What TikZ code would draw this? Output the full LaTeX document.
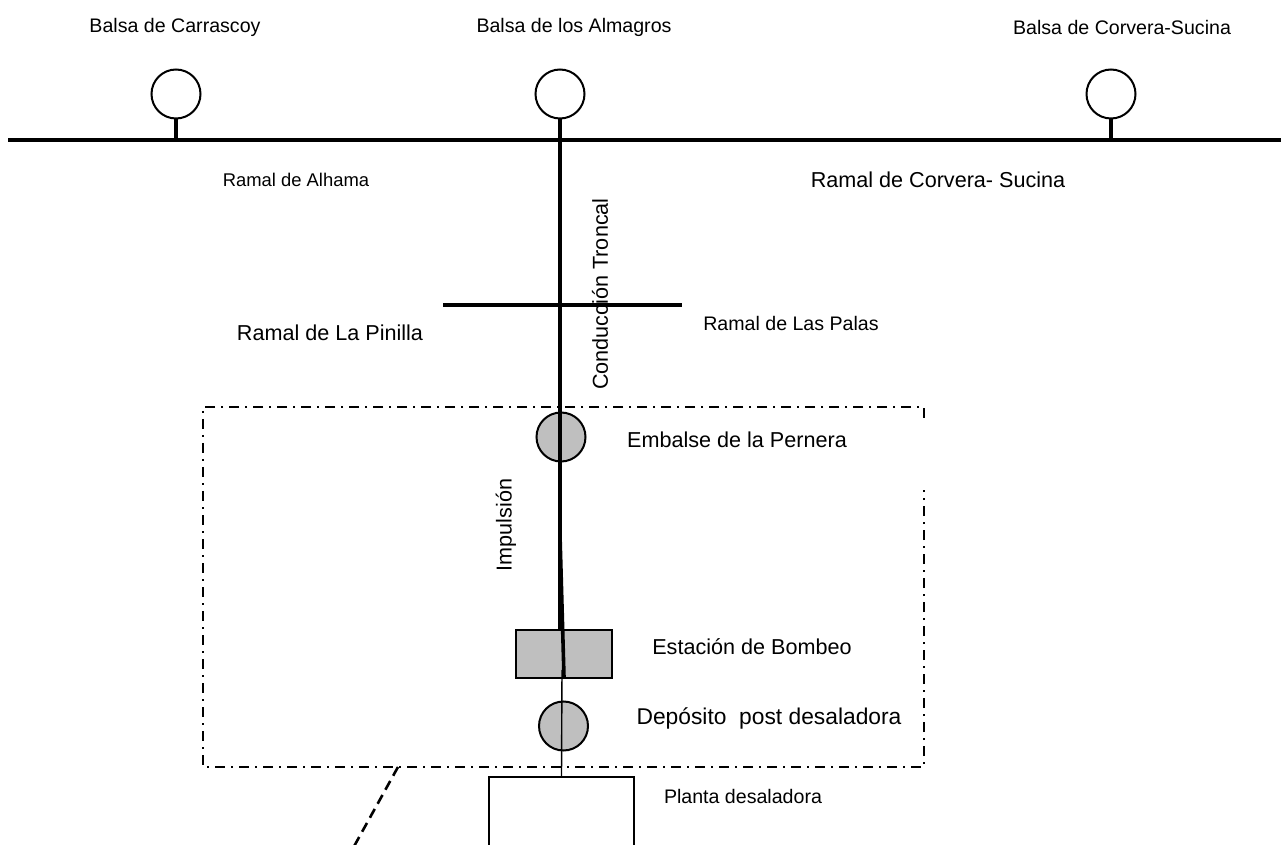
\documentclass[tikz,border=0pt]{standalone}
\usepackage{fontspec}
\setmainfont{Liberation Sans}
\begin{document}
\begin{tikzpicture}[x=0.5pt,y=-0.5pt,
  lbl/.style={font=\fontsize{9.8}{12}\selectfont, inner sep=0pt},
  big/.style={font=\fontsize{10.8}{13}\selectfont, inner sep=0pt},
  small/.style={font=\fontsize{9.2}{11}\selectfont, inner sep=0pt},
  pipe/.style={line width=2.2pt},
  balsa/.style={circle, draw, line width=1pt, minimum size=24.5pt, inner sep=0pt, fill=white},
  tank/.style={circle, draw, line width=1pt, minimum size=24.5pt, inner sep=0pt, fill=gray!50},
  box/.style={draw, line width=1pt, fill=gray!50},
  zone/.style={line width=1pt, dash pattern=on 5pt off 3pt on 1pt off 3pt},
  link/.style={line width=1.3pt, dash pattern=on 5pt off 3pt}]
\useasboundingbox (0,0) rectangle (1281,845);
\clip (0,0) rectangle (1281,845);
% main line
\coordinate (mL) at (8,140);
\coordinate (mR) at (1281,140);
\draw[pipe] (mL) -- (mR);
% balsas
\node[balsa] (carr) at (176,94) {};
\node[balsa] (alma) at (560,94) {};
\node[balsa] (corv) at (1111,94) {};
\coordinate (carrJ) at (176,140);
\coordinate (corvJ) at (1111,140);
\draw[pipe] (carr.south) -- (carrJ);
\draw[pipe] (corv.south) -- (corvJ);
% cross
\coordinate (cL) at (443,305);
\coordinate (cR) at (682,305);
\draw[pipe] (cL) -- (cR);
% zone box
\coordinate (z1) at (203,407);
\coordinate (z2) at (924,407);
\coordinate (z3) at (924,418);
\coordinate (z4) at (924,490);
\coordinate (z5) at (924,767);
\coordinate (z6) at (203,767);
\draw[zone] (z3) -- (z2) -- (z1) -- (z6) -- (z5) -- (z4);
% dashed link
\coordinate (d1) at (398,767);
\coordinate (d2) at (352,850);
\draw[link] (d1) -- (d2);
% tanks
\node[tank] (pern) at (561,437) {};
\node[box, minimum width=48pt, minimum height=24pt, inner sep=0pt] (bomb) at (563.5,654) {};
\node[tank] (depo) at (563.5,726) {};
\node[draw, line width=1pt, fill=white, minimum width=72.5pt, minimum height=50pt, inner sep=0pt, anchor=north west] (plan) at (488,776) {};
% trunk
\coordinate (k1) at (560,535);
\coordinate (k2) at (564,677);
\coordinate (t1) at (562,670);
\draw[pipe] (alma.south) -- (bomb.north -| alma.south);
\draw[line width=1.8pt] (k1) -- (k2);
\draw[line width=0.7pt] (t1) -- (plan.north);
% labels
\node[lbl] at (175,27) {Balsa de Carrascoy};
\node[lbl] at (574,27) {Balsa de los Almagros};
\node[lbl] at (1122,27) {Balsa de Corvera-Sucina};
\node[small] at (296,180) {Ramal de Alhama};
\node[big] at (938,180) {Ramal de Corvera- Sucina};
\node[big, rotate=90] at (600,294) {Conducción Troncal};
\node[big] at (330,333) {Ramal de La Pinilla};
\node[lbl] at (791,323) {Ramal de Las Palas};
\node[big] at (737,440) {Embalse de la Pernera};
\node[big, rotate=90] at (506,525) {Impulsión};
\node[big] at (752,647) {Estación de Bombeo};
\node[big, font=\fontsize{11.4}{13}\selectfont] at (769,718) {Depósito\ \ post desaladora};
\node[lbl] at (743,796) {Planta desaladora};
\end{tikzpicture}
\end{document}
